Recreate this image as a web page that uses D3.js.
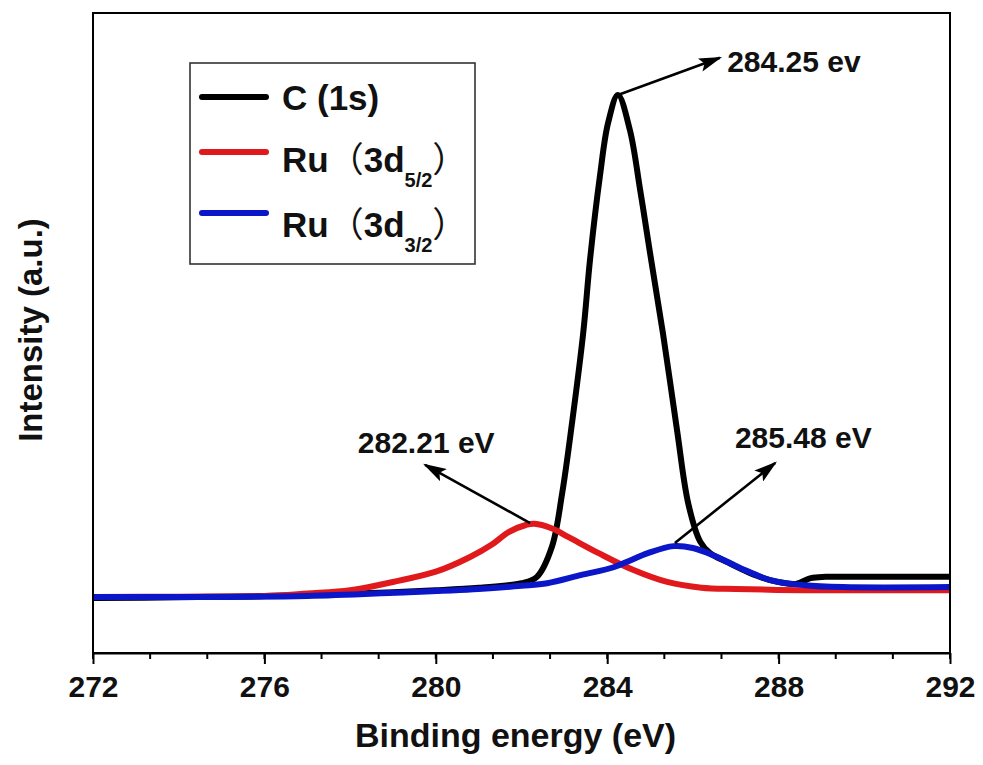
<!DOCTYPE html>
<html>
<head>
<meta charset="utf-8">
<script src="https://cdn.jsdelivr.net/npm/d3@7"></script>
<style>
  body { margin: 0; background: #fff; }
  svg { display: block; font-family: "Liberation Sans", Arial, "Noto Sans CJK SC", sans-serif; }
</style>
</head>
<body>
<svg width="983" height="765"></svg>
<script>
// XPS spectra (binding energy in eV, intensity in a.u.)
var energyC = [272, 274, 276, 278, 279, 280, 281, 282, 282.36, 282.71, 282.95, 283.18, 283.44, 283.6, 283.83, 284.02, 284.25, 284.53, 284.77, 285.0, 285.3, 285.63, 285.89, 286.17, 286.4, 286.8, 287.3, 287.8, 288.4, 288.75, 289.1, 290, 292];
var intensityC = [8.6, 8.7, 8.9, 9.3, 9.5, 9.8, 10.2, 10.9, 11.9, 16.6, 25.0, 36.0, 50.0, 61.5, 74.5, 82.8, 87.2, 81.7, 72.3, 62.5, 50.0, 34.8, 23.4, 17.4, 15.6, 14.2, 12.6, 11.4, 10.8, 11.7, 11.9, 11.9, 11.9];

var energyRu52 = [272, 274, 276, 277, 278, 279, 280, 280.8, 281.3, 281.7, 282.1, 282.3, 282.7, 283.1, 283.8, 284.6, 285.4, 286.2, 287, 288.6, 290, 292];
var intensityRu52 = [8.75, 8.8, 8.9, 9.3, 9.8, 11.1, 12.7, 15.0, 16.9, 18.9, 20.0, 20.2, 19.5, 18.1, 15.6, 13.0, 11.1, 10.2, 10.0, 9.8, 9.8, 9.8];

var energyRu32 = [272, 275, 277, 279, 281, 282, 282.6, 283.4, 284.15, 284.55, 284.95, 285.55, 286.0, 286.5, 287.1, 287.8, 288.6, 289.5, 292];
var intensityRu32 = [8.75, 8.75, 8.9, 9.4, 10.0, 10.5, 10.9, 12.2, 13.4, 14.5, 15.6, 16.7, 16.4, 15.2, 13.3, 11.4, 10.6, 10.3, 10.3];

var xTicks = [272, 276, 280, 284, 288, 292];

// peak labels: arrow start (on curve), arrow tip and label position, in data units
var peakLabels = ["284.25 ev", "282.21 eV", "285.48 eV"];
var arrowFrom = [[284.25, 87.2], [282.2, 20.3], [285.58, 17.2]];
var arrowTo = [[286.63, 93.0], [279.75, 29.4], [287.92, 29.7]];
var labelAt = [[286.8, 90.8], [278.18, 31.25], [286.98, 32.0]];

var margin = {top: 13, right: 33, bottom: 112, left: 93},
    width = 983 - margin.left - margin.right,
    height = 765 - margin.top - margin.bottom;

var x = d3.scaleLinear().domain([272, 292]).range([0, width]);
var y = d3.scaleLinear().domain([0, 100]).range([height, 0]);

var svg = d3.select("svg")
  .append("g")
    .attr("transform", "translate(" + margin.left + "," + margin.top + ")");

var defs = d3.select("svg").append("defs");
defs.append("marker")
    .attr("id", "head")
    .attr("viewBox", "0 0 10 6")
    .attr("refX", 9).attr("refY", 3)
    .attr("markerWidth", 9).attr("markerHeight", 5.4)
    .attr("markerUnits", "strokeWidth")
    .attr("orient", "auto")
  .append("path")
    .attr("d", "M0,0 L10,3 L0,6 L2,3 Z")
    .attr("fill", "#000");

var line = d3.line()
    .x(function(d) { return x(d[0]); })
    .y(function(d) { return y(d[1]); })
    .curve(d3.curveCatmullRom.alpha(0.5));

var series = [
  {e: energyC, v: intensityC, color: "#000000"},
  {e: energyRu52, v: intensityRu52, color: "#e0191c"},
  {e: energyRu32, v: intensityRu32, color: "#0b16c8"}
];

series.forEach(function(s) {
  svg.append("path")
      .attr("d", line(d3.zip(s.e, s.v)))
      .attr("fill", "none")
      .attr("stroke", s.color)
      .attr("stroke-width", 6)
      .attr("stroke-linejoin", "round");
});

// frame
svg.append("rect")
    .attr("width", width)
    .attr("height", height)
    .attr("fill", "none")
    .attr("stroke", "#000")
    .attr("stroke-width", 2);

// x axis: major ticks every 4 eV, two minor ticks between
var minor = d3.range(272, 292.001, 4 / 3);
svg.append("g")
    .attr("transform", "translate(0," + height + ")")
    .selectAll("line").data(minor).enter().append("line")
    .attr("x1", function(d) { return x(d); })
    .attr("x2", function(d) { return x(d); })
    .attr("y1", 0).attr("y2", 6)
    .attr("stroke", "#000").attr("stroke-width", 2);

var xAxis = d3.axisBottom(x).tickValues(xTicks).tickSize(11).tickPadding(12).tickSizeOuter(0);
var gx = svg.append("g")
    .attr("transform", "translate(0," + height + ")")
    .call(xAxis);
gx.select(".domain").attr("stroke-width", 2);
gx.selectAll(".tick line").attr("stroke-width", 2);
gx.selectAll(".tick text")
    .attr("font-size", 30)
    .attr("font-weight", "bold")
    .attr("font-family", "'Liberation Sans', Arial, sans-serif")
    .attr("fill", "#111");

// axis titles
svg.append("text")
    .attr("x", width / 2 - 6)
    .attr("y", height + 94)
    .attr("text-anchor", "middle")
    .attr("font-size", 34)
    .attr("font-weight", "bold")
    .attr("fill", "#111")
    .text("Binding energy (eV)");

svg.append("text")
    .attr("transform", "rotate(-90)")
    .attr("x", -(height / 2) + 3)
    .attr("y", -51)
    .attr("text-anchor", "middle")
    .attr("font-size", 33)
    .attr("font-weight", "bold")
    .attr("fill", "#111")
    .text("Intensity (a.u.)");

// peak annotations
peakLabels.forEach(function(label, i) {
  svg.append("line")
      .attr("x1", x(arrowFrom[i][0])).attr("y1", y(arrowFrom[i][1]))
      .attr("x2", x(arrowTo[i][0])).attr("y2", y(arrowTo[i][1]))
      .attr("stroke", "#000")
      .attr("stroke-width", 2.6)
      .attr("marker-end", "url(#head)");
  svg.append("text")
      .attr("x", x(labelAt[i][0]))
      .attr("y", y(labelAt[i][1]))
      .attr("font-size", 30)
      .attr("font-weight", "bold")
      .attr("fill", "#111")
      .text(label);
});

// legend
var legend = svg.append("g").attr("transform", "translate(97,50)");
legend.append("rect")
    .attr("width", 285).attr("height", 201)
    .attr("fill", "#fff")
    .attr("stroke", "#333").attr("stroke-width", 1.6);

var legendRows = [
  {color: "#000000", y: 34, name: "C (1s)", sub: null},
  {color: "#e0191c", y: 89, name: "Ru", sub: "5/2"},
  {color: "#0b16c8", y: 150, name: "Ru", sub: "3/2"}
];
var textBase = [47, 109, 174];

legendRows.forEach(function(r, i) {
  legend.append("line")
      .attr("x1", 12).attr("x2", 76)
      .attr("y1", r.y).attr("y2", r.y)
      .attr("stroke", r.color)
      .attr("stroke-width", 6)
      .attr("stroke-linecap", "round");
  var t = legend.append("text")
      .attr("x", 92).attr("y", textBase[i])
      .attr("font-size", 35)
      .attr("font-weight", "bold")
      .attr("fill", "#111");
  if (!r.sub) {
    t.text(r.name);
  } else {
    t.append("tspan").text(r.name);
    t.append("tspan").attr("font-weight", "normal").attr("font-family", "'Noto Sans CJK SC', sans-serif").text("（");
    t.append("tspan").text("3d");
    t.append("tspan").attr("font-size", 20).attr("dy", 15).text(r.sub);
    t.append("tspan").attr("font-weight", "normal").attr("font-family", "'Noto Sans CJK SC', sans-serif").attr("dy", -15).text("）");
  }
});
</script>
</body>
</html>
